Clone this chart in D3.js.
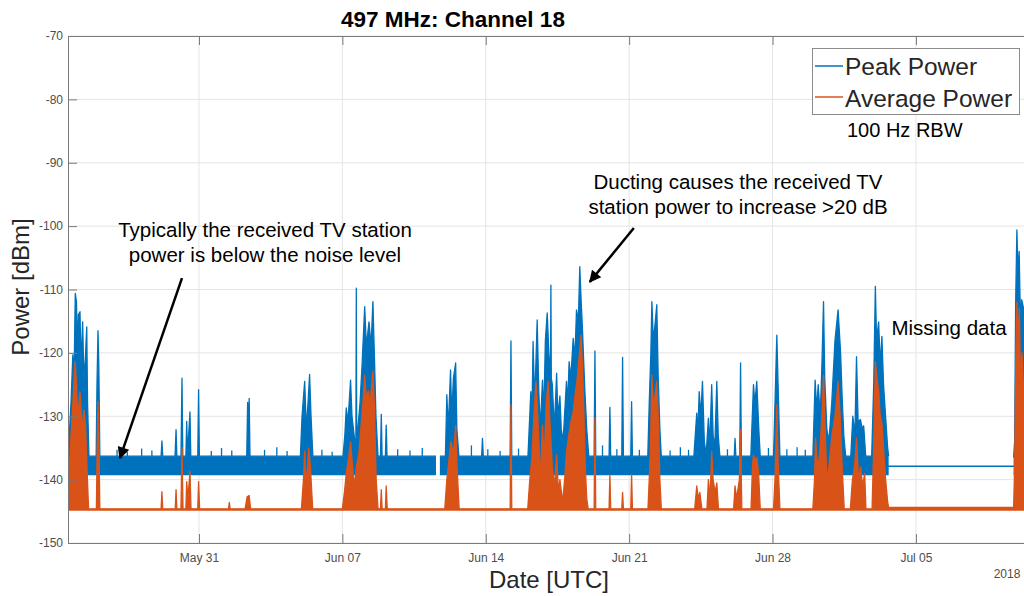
<!DOCTYPE html>
<html>
<head>
<meta charset="utf-8">
<script src="https://cdn.jsdelivr.net/npm/d3@7"></script>
<style>
body { margin: 0; background: #fff; }
svg { display: block; font-family: "Liberation Sans", Arial, Helvetica, sans-serif; }
</style>
</head>
<body>
<div id="chart"></div>
<script>
// time is in days since 2018-05-24 00:00 UTC, power in dBm
var yTicks = [-150, -140, -130, -120, -110, -100, -90, -80, -70];
var xTickDays = [7, 14, 21, 28, 35, 42];
var xTickLabels = ["May 31", "Jun 07", "Jun 14", "Jun 21", "Jun 28", "Jul 05"];
var seriesNames = ["Peak Power", "Average Power"];

// noise floor band of the peak trace and the floor of the average trace
var peakFloor = -139.3;
var avgFloor = -144.9;

// upper envelope of Peak Power (null = no data)
var peakTop = [
  [0.60,-134],[0.65,-134],[0.75,-128],[0.84,-120.3],[0.90,-124],[0.96,-110.6],[1.02,-112],[1.06,-120],[1.11,-114],[1.19,-113.5],[1.24,-122],[1.32,-115.1],[1.38,-124],[1.45,-121],[1.52,-115.9],[1.56,-128],[1.63,-136.3],
  [1.98,-136.3],[2.02,-125],[2.07,-116.5],[2.11,-122],[2.16,-136.3],
  [5.15,-136.3],[5.19,-133.9],[5.23,-136.3],
  [5.83,-136.3],[5.88,-132.1],[5.92,-136.3],
  [6.12,-136.3],[6.17,-124.0],[6.21,-136.3],
  [6.36,-136.3],[6.40,-130.8],[6.44,-136],[6.56,-129.3],[6.60,-136.3],
  [6.94,-136.3],[6.98,-125.8],[7.02,-136.3],
  [9.33,-136.3],[9.375,-127.8],[9.41,-132],[9.45,-127.2],[9.49,-136.3],
  [11.95,-136.3],[12.03,-130],[12.16,-124.5],[12.24,-132],[12.32,-128],[12.40,-123.4],[12.47,-130],[12.56,-136.3],
  [14.03,-136.3],[14.12,-133],[14.19,-128.7],[14.27,-131],[14.40,-124.3],[14.47,-130],[14.61,-134],[14.66,-134],[14.68,-109.8],[14.70,-134],[14.86,-128],[14.96,-122],[15.09,-112.7],[15.17,-119],[15.30,-115.1],[15.40,-119],[15.49,-111.9],[15.56,-120],[15.64,-130],[15.74,-136.3],
  [15.86,-136.3],[15.90,-129.7],[15.94,-136.3],
  [16.10,-136.3],[16.14,-131.4],[16.18,-136.3],
  [18.57,-136.3],[18.58,null],[18.76,-136.3],
  [19.03,-136.3],[19.10,-126.6],[19.17,-132],[19.28,-122.7],[19.34,-130],[19.42,-124],[19.53,-121.6],[19.59,-132],[19.69,-136.3],
  [20.80,-136.3],[20.84,-133.5],[20.88,-136.3],
  [22.19,-136.3],[22.23,-118.1],[22.27,-136.3],
  [23.06,-136.3],[23.20,-126.1],[23.25,-131],[23.31,-118.2],[23.39,-128],[23.51,-114.8],[23.59,-126],[23.66,-132],[23.77,-124.3],[23.83,-130],[23.91,-118],[24.00,-113.7],[24.08,-120],[24.16,-124],[24.18,-109.3],[24.20,-124],[24.25,-125],[24.35,-132],[24.46,-123.2],[24.52,-130],[24.62,-126.8],[24.71,-134],[24.81,-132],
  [24.94,-124.5],[25.00,-128],[25.07,-121.4],[25.15,-124],[25.27,-117.7],[25.35,-121],[25.43,-113.2],[25.52,-115],[25.59,-106.4],[25.66,-112],[25.72,-116.1],[25.79,-122],[25.84,-126.1],[25.93,-132],[26.03,-136.3],
  [26.29,-136.3],[26.33,-119.7],[26.37,-136.3],
  [27.02,-136.3],[27.06,-128.6],[27.10,-136.3],
  [27.64,-136.3],[27.68,-120.7],[27.72,-136.3],
  [28.08,-136.3],[28.12,-127.7],[28.16,-136.3],
  [28.91,-136.3],[28.98,-128],[29.06,-120],[29.11,-111.9],[29.18,-118],[29.25,-116],[29.35,-112.4],[29.42,-124],[29.50,-132],[29.57,-136.3],
  [31.16,-136.3],[31.30,-129.5],[31.35,-133],[31.42,-126.1],[31.50,-130],[31.58,-124.5],[31.67,-134],[31.76,-136],[31.87,-130.3],[31.93,-135],[32.03,-125.0],[32.10,-133],[32.18,-135],[32.28,-124.5],[32.35,-133],[32.43,-136.3],
  [33.13,-136.3],[33.17,-133.5],[33.21,-136.3],
  [33.40,-136.3],[33.44,-121.6],[33.48,-136.3],
  [33.94,-136.3],[34.07,-125.0],[34.14,-128],[34.23,-124.5],[34.33,-132],[34.40,-136.3],
  [35.05,-136.3],[35.12,-128],[35.21,-117.2],[35.28,-126],[35.36,-136.3],
  [36.97,-136.3],[37.08,-124.3],[37.16,-129],[37.23,-125],[37.33,-130],[37.41,-122],[37.49,-111.9],[37.55,-124],[37.65,-132],[37.75,-134],[37.89,-128],[38.05,-118],[38.20,-113.2],[38.32,-119.8],[38.40,-127],[38.48,-133],[38.57,-136.3],
  [38.82,-136.3],[38.92,-130.0],[39.02,-133],[39.10,-120.6],[39.18,-131],[39.29,-130.5],[39.38,-132],[39.45,-131.5],[39.55,-136.3],
  [39.84,-136.3],[39.94,-125],[40.02,-109.5],[40.08,-118],[40.18,-115.1],[40.26,-122],[40.34,-117.4],[40.42,-125],[40.52,-130],[40.62,-135],[40.67,-136.3],
  [40.68,null],
  [46.77,-136.5],[46.82,-134],[46.87,-112],[46.93,-100.6],[46.99,-108],[47.04,-104],[47.11,-116],[47.16,-111.6],[47.26,-113],[47.40,-118],[47.60,-118]
];

// little noise spikes sitting on top of the peak floor band
var peakNoise = [
  [3.0,-135.3],[3.5,-135.6],[4.2,-135.1],[4.7,-135.4],[7.6,-135.5],[8.1,-135.0],[8.6,-135.4],
  [10.2,-135.3],[10.8,-134.9],[11.3,-135.5],[13.0,-135.3],[13.5,-135.6],[16.7,-135.2],[17.3,-135.4],
  [17.9,-135.0],[20.3,-134.6],[21.1,-135.2],[21.7,-135.5],[22.6,-135.1],[26.7,-134.6],[27.4,-135.2],
  [28.5,-135.3],[30.0,-135.4],[30.5,-134.9],[30.9,-135.3],[32.8,-135.2],[34.8,-135.0],[35.7,-135.2],
  [36.2,-134.9],[36.6,-135.3]
];

// last value held while data is missing
var peakHeld = [[40.62,-137.9],[46.80,-137.9]];

// upper envelope of Average Power
var avgTop = [
  [0.60,-144],[0.65,-140],[0.75,-133],[0.84,-128],[0.95,-121.4],[1.02,-125],[1.09,-130],[1.19,-126.1],[1.30,-132],[1.38,-129],[1.46,-131.4],[1.53,-138],[1.61,-144.6],
  [1.99,-144.6],[2.03,-135],[2.07,-127.7],[2.11,-133],[2.16,-144.6],
  [5.15,-144.6],[5.19,-141.9],[5.23,-144.6],
  [5.84,-144.6],[5.88,-141.6],[5.92,-144.6],
  [6.12,-144.6],[6.17,-134.9],[6.22,-144.6],
  [6.36,-144.6],[6.40,-140.3],[6.46,-143],[6.56,-138.7],[6.61,-144.6],
  [6.94,-144.6],[6.98,-140.3],[7.03,-144.6],
  [8.44,-144.6],[8.48,-143.6],[8.52,-144.6],
  [9.25,-144.6],[9.35,-142.7],[9.45,-142.5],[9.52,-144.6],
  [12.00,-144.6],[12.10,-140],[12.16,-135.5],[12.24,-141],[12.36,-135],[12.44,-138],[12.55,-144.6],
  [14.00,-144.6],[14.10,-142],[14.19,-139],[14.30,-136.6],[14.40,-134.0],[14.50,-138],[14.60,-141],[14.68,-138],[14.80,-136],[14.90,-132],[15.00,-128],[15.09,-123.5],[15.17,-127],[15.27,-126],[15.35,-128],[15.49,-122.9],[15.56,-128],[15.65,-140],[15.74,-144.6],
  [15.86,-144.6],[15.90,-141.6],[15.94,-144.6],
  [16.10,-144.6],[16.14,-141],[16.19,-144.6],
  [19.00,-144.6],[19.10,-140],[19.20,-137],[19.30,-134],[19.42,-136],[19.53,-131.5],[19.60,-138],[19.70,-144.6],
  [22.19,-144.6],[22.23,-128.2],[22.27,-144.6],
  [23.05,-144.6],[23.15,-140],[23.25,-136.6],[23.35,-130],[23.45,-124.5],[23.51,-128],[23.59,-134],[23.66,-140],[23.77,-131.4],[23.85,-137],[23.95,-128],[24.05,-124.5],[24.12,-130],[24.25,-138],[24.35,-141],[24.46,-136.1],[24.55,-142],[24.62,-140],[24.75,-143.5],
  [24.85,-140],[24.94,-135.6],[25.05,-133],[25.15,-131],[25.27,-129.3],[25.38,-126],[25.45,-124.5],[25.55,-121],[25.65,-117.2],[25.72,-122],[25.79,-129.3],[25.86,-138],[25.93,-143],[26.00,-144.6],
  [26.29,-144.6],[26.33,-130.3],[26.37,-144.6],
  [27.02,-144.6],[27.06,-139.2],[27.10,-144.6],
  [27.64,-144.6],[27.68,-142],[27.72,-144.6],
  [28.08,-144.6],[28.12,-139.2],[28.16,-144.6],
  [28.92,-144.6],[28.98,-140],[29.04,-135],[29.11,-123.5],[29.18,-128],[29.25,-127],[29.35,-124.5],[29.42,-130],[29.50,-140],[29.57,-144.6],
  [31.20,-144.6],[31.30,-141],[31.38,-143],[31.45,-142],[31.55,-144.6],[31.80,-144.6],[31.87,-140],[31.95,-143],[32.03,-135.6],[32.10,-140],[32.20,-142],[32.28,-140.5],[32.36,-144.6],
  [33.10,-144.6],[33.17,-141],[33.25,-143],[33.38,-140],[33.44,-132.1],[33.50,-144.6],
  [33.95,-144.6],[34.02,-138],[34.07,-136.1],[34.15,-137],[34.23,-136.5],[34.32,-139],[34.40,-144.6],
  [35.05,-144.6],[35.12,-140],[35.21,-128.2],[35.28,-138],[35.36,-144.6],
  [36.97,-144.6],[37.05,-140],[37.10,-133.4],[37.20,-138],[37.30,-136],[37.41,-130],[37.49,-123.5],[37.56,-131],[37.65,-140],[37.75,-138],[37.90,-133],[38.05,-130],[38.20,-124.5],[38.30,-130],[38.40,-138],[38.50,-144.6],
  [38.80,-144.6],[38.90,-140],[39.00,-138],[39.10,-133.5],[39.20,-140],[39.30,-138],[39.40,-141],[39.50,-139],[39.56,-144.6],
  [39.86,-144.6],[39.93,-136],[39.98,-128],[40.02,-121.4],[40.10,-124],[40.18,-126],[40.26,-130],[40.34,-131],[40.42,-135],[40.52,-140],[40.62,-143.5],[40.67,-144.4],
  [46.77,-144.4],[46.82,-138],[46.88,-120],[46.93,-112],[46.99,-118],[47.05,-113],[47.11,-125],[47.18,-120],[47.26,-126],[47.60,-126]
];

var width = 1024, height = 596;
var box = {left: 68, top: 36, right: 1030, bottom: 543};
var blue = "#0072BD", orange = "#D95319";
var t0 = Date.UTC(2018, 4, 24);
function toDate(d) { return new Date(t0 + d * 864e5); }

var x = d3.scaleUtc()
    .domain([toDate(0.605), toDate(47.57)])
    .range([box.left, box.right]);
var y = d3.scaleLinear()
    .domain([-150, -70])
    .range([box.bottom, box.top]);

var svg = d3.select("#chart").append("svg")
    .attr("width", width)
    .attr("height", height);

svg.append("defs").append("clipPath").attr("id", "plotclip")
  .append("rect")
    .attr("x", box.left).attr("y", box.top)
    .attr("width", box.right - box.left).attr("height", box.bottom - box.top);

// grid
var grid = svg.append("g").attr("class", "grid");
grid.selectAll(".gy").data(yTicks).enter().append("line")
    .attr("x1", box.left).attr("x2", box.right)
    .attr("y1", function(d) { return y(d); }).attr("y2", function(d) { return y(d); })
    .attr("stroke", "#e4e4e4");
grid.selectAll(".gx").data(xTickDays).enter().append("line")
    .attr("y1", box.top).attr("y2", box.bottom)
    .attr("x1", function(d) { return x(toDate(d)); }).attr("x2", function(d) { return x(toDate(d)); })
    .attr("stroke", "#e4e4e4");

var plot = svg.append("g").attr("clip-path", "url(#plotclip)");

function px(d) { return x(toDate(d[0])); }
function has(d) { return d[1] !== null; }

// Peak Power
plot.append("path").datum(peakTop)
    .attr("fill", blue)
    .attr("d", d3.area().defined(has).x(px).y0(y(peakFloor)).y1(function(d) { return y(d[1]); }));
plot.append("path").datum(peakTop)
    .attr("fill", "none").attr("stroke", blue).attr("stroke-width", 1.3).attr("stroke-linejoin", "round")
    .attr("d", d3.line().defined(has).x(px).y(function(d) { return y(d[1]); }));
plot.selectAll(".noise").data(peakNoise).enter().append("line")
    .attr("x1", px).attr("x2", px)
    .attr("y1", y(-136.3)).attr("y2", function(d) { return y(d[1]); })
    .attr("stroke", blue).attr("stroke-width", 1.3);
plot.append("path").datum(peakHeld)
    .attr("fill", "none").attr("stroke", blue).attr("stroke-width", 1.5)
    .attr("d", d3.line().x(px).y(function(d) { return y(d[1]); }));

// Average Power
plot.append("path").datum(avgTop)
    .attr("fill", orange)
    .attr("d", d3.area().x(px).y0(y(avgFloor)).y1(function(d) { return y(d[1]); }));
plot.append("path").datum(avgTop)
    .attr("fill", "none").attr("stroke", orange).attr("stroke-width", 1.3).attr("stroke-linejoin", "round")
    .attr("d", d3.line().x(px).y(function(d) { return y(d[1]); }));

// axes
var axisColor = "#7a7a7a", labelColor = "#4d4d4d";
var yAxis = svg.append("g").attr("transform", "translate(" + box.left + ",0)")
    .call(d3.axisLeft(y).tickValues(yTicks).tickFormat(function(d) { return String(d); })
      .tickSize(-9).tickSizeOuter(0).tickPadding(5));
var xAxis = svg.append("g").attr("transform", "translate(0," + box.bottom + ")")
    .call(d3.axisBottom(x).tickValues(xTickDays.map(toDate))
      .tickFormat(function(d, i) { return xTickLabels[i]; })
      .tickSize(-9).tickSizeOuter(0).tickPadding(10));
var topAxis = svg.append("g").attr("transform", "translate(0," + box.top + ")")
    .call(d3.axisTop(x).tickValues(xTickDays.map(toDate)).tickFormat("").tickSize(-9).tickSizeOuter(0));
[yAxis, xAxis, topAxis].forEach(function(g) {
  g.select(".domain").attr("stroke", axisColor);
  g.selectAll(".tick line").attr("stroke", axisColor);
  g.selectAll(".tick text").attr("fill", labelColor).style("font-size", "12px")
    .style("font-family", "'Liberation Sans', Arial, sans-serif");
});

svg.append("text").attr("x", 1007).attr("y", 578).attr("text-anchor", "middle")
    .attr("fill", labelColor).style("font-size", "12px").text("2018");

// titles
svg.append("text").attr("x", 453).attr("y", 27).attr("text-anchor", "middle")
    .attr("fill", "#000").style("font-size", "22.5px").style("font-weight", "bold")
    .text("497 MHz: Channel 18");
svg.append("text").attr("x", 549).attr("y", 588).attr("text-anchor", "middle")
    .attr("fill", "#262626").style("font-size", "24px").text("Date [UTC]");
svg.append("text").attr("transform", "translate(29,287) rotate(-90)").attr("text-anchor", "middle")
    .attr("fill", "#262626").style("font-size", "24px").text("Power [dBm]");

// legend
var legend = svg.append("g");
legend.append("rect").attr("x", 812.5).attr("y", 48.5).attr("width", 207).attr("height", 66)
    .attr("fill", "#fff").attr("stroke", "#8c8c8c");
[blue, orange].forEach(function(c, i) {
  legend.append("line").attr("x1", 815).attr("x2", 843)
      .attr("y1", 66 + i * 31).attr("y2", 66 + i * 31)
      .attr("stroke", c).attr("stroke-width", 1.5);
  legend.append("text").attr("x", 845).attr("y", 75 + i * 31.5)
      .attr("fill", "#262626").style("font-size", "24.5px").text(seriesNames[i]);
});
svg.append("text").attr("x", 847).attr("y", 136.5).attr("fill", "#000")
    .style("font-size", "20px").text("100 Hz RBW");

// annotations
var notes = [
  {lines: ["Typically the received TV station", "power is below the noise level"], cx: 265, y: 237},
  {lines: ["Ducting causes the received TV", "station power to increase >20 dB"], cx: 738, y: 189},
  {lines: ["Missing data"], cx: 949, y: 335}
];
notes.forEach(function(n) {
  var t = svg.append("text").attr("text-anchor", "middle").attr("fill", "#000").style("font-size", "20.5px");
  n.lines.forEach(function(s, i) {
    t.append("tspan").attr("x", n.cx).attr("y", n.y + i * 25).text(s);
  });
});

svg.select("defs").append("marker")
    .attr("id", "arrow").attr("viewBox", "0 0 10 10").attr("refX", 9).attr("refY", 5)
    .attr("markerWidth", 14).attr("markerHeight", 12).attr("markerUnits", "userSpaceOnUse")
    .attr("orient", "auto")
  .append("path").attr("d", "M0,0L10,5L0,10z").attr("fill", "#000");

var arrows = [
  {from: [6.17, -108.2], to: [3.14, -136.6]},
  {from: [28.23, -100.3], to: [26.08, -108.8]}
];
arrows.forEach(function(a) {
  svg.append("line")
      .attr("x1", x(toDate(a.from[0]))).attr("y1", y(a.from[1]))
      .attr("x2", x(toDate(a.to[0]))).attr("y2", y(a.to[1]))
      .attr("stroke", "#000").attr("stroke-width", 2.5).attr("marker-end", "url(#arrow)");
});
</script>
</body>
</html>
